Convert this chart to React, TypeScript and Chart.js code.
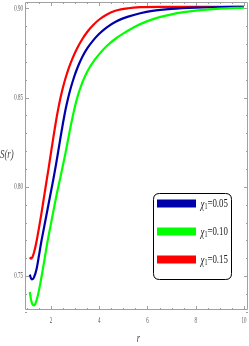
import React, { useEffect, useRef } from "react";
import { Chart, registerables } from "chart.js";

Chart.register(...registerables);

// Data
const blueR = [1.12, 1.16, 1.2, 1.25, 1.3, 1.4, 1.5, 1.6, 1.7, 1.8, 1.9, 2.0, 2.1, 2.2, 2.3, 2.4, 2.5, 2.6, 2.7, 2.8, 2.95, 3.1, 3.3, 3.5, 3.75, 4.0, 4.3, 4.7, 5.2, 5.7, 6.2, 7.0, 8.0, 9.0, 10];
const blueS = [0.7508, 0.749, 0.7482, 0.7483, 0.7495, 0.754, 0.7615, 0.7695, 0.7765, 0.7835, 0.7905, 0.7975, 0.8045, 0.812, 0.82, 0.8282, 0.836, 0.8432, 0.8492, 0.8545, 0.8612, 0.8668, 0.8728, 0.8775, 0.882, 0.8857, 0.8892, 0.8926, 0.8953, 0.8972, 0.8985, 0.8996, 0.9003, 0.9006, 0.9008];

const greenR = [1.12, 1.16, 1.2, 1.25, 1.3, 1.35, 1.45, 1.55, 1.7, 1.85, 2.0, 2.2, 2.4, 2.6, 2.8, 2.95, 3.1, 3.3, 3.5, 3.75, 4.0, 4.3, 4.7, 5.1, 5.5, 6.0, 6.5, 7.0, 7.5, 8.0, 9.0, 10];
const greenS = [0.7412, 0.7375, 0.7352, 0.7338, 0.7336, 0.7345, 0.739, 0.7455, 0.757, 0.769, 0.7795, 0.7935, 0.806, 0.819, 0.833, 0.8425, 0.8505, 0.8585, 0.8645, 0.87, 0.8743, 0.8787, 0.8832, 0.8867, 0.8898, 0.8928, 0.895, 0.8966, 0.8978, 0.8987, 0.8998, 0.9004];

const redR = [1.12, 1.17, 1.22, 1.3, 1.4, 1.5, 1.6, 1.7, 1.8, 1.9, 2.0, 2.1, 2.2, 2.3, 2.4, 2.5, 2.6, 2.75, 2.9, 3.1, 3.3, 3.5, 3.75, 4.0, 4.3, 4.7, 5.2, 5.7, 6.5, 8.0, 10];
const redS = [0.7605, 0.7598, 0.7604, 0.7635, 0.7695, 0.777, 0.785, 0.7935, 0.802, 0.8105, 0.8193, 0.828, 0.8363, 0.8438, 0.8503, 0.8559, 0.8608, 0.867, 0.8722, 0.878, 0.8828, 0.8867, 0.8906, 0.8937, 0.8964, 0.8987, 0.9, 0.9006, 0.9008, 0.9008, 0.9008];

const seriesLabels = ["0.05", "0.10", "0.15"];
const seriesColors = ["#0000aa", "#00ff00", "#ff0000"];

const xTickValues = [2, 4, 6, 8, 10];
const xTickLabels = ["2", "4", "6", "8", "10"];
const yTickValues = [0.75, 0.8, 0.85, 0.9];
const yTickLabels = ["0.75", "0.80", "0.85", "0.90"];

const xMin = 0.92;
const xMax = 10.17;
const yMin = 0.731;
const yMax = 0.9035;

function toPoints(xs: number[], ys: number[]) {
  return xs.map((x, i) => ({ x, y: ys[i] }));
}

function drawText(
  ctx: CanvasRenderingContext2D,
  s: string,
  x: number,
  y: number,
  align: CanvasTextAlign,
  font: string,
  sx: number,
  color: string
) {
  ctx.save();
  ctx.translate(x, y);
  ctx.scale(sx, 1);
  ctx.font = font;
  ctx.textAlign = align;
  ctx.textBaseline = "middle";
  ctx.fillStyle = color;
  ctx.fillText(s, 0, 0);
  ctx.restore();
}

const framePlugin = {
  id: "mmaFrame",
  afterDraw(chart: any) {
    const ctx: CanvasRenderingContext2D = chart.ctx;
    const { left, right, top, bottom } = chart.chartArea;
    const xs = chart.scales.x;
    const ys = chart.scales.y;
    ctx.save();
    ctx.strokeStyle = "#a0a0a0";
    ctx.lineWidth = 1;
    ctx.beginPath();
    ctx.moveTo(left + 0.5, top + 0.5);
    ctx.lineTo(right - 0.5, top + 0.5);
    ctx.lineTo(right - 0.5, bottom - 0.5);
    ctx.lineTo(left + 0.5, bottom - 0.5);
    ctx.closePath();
    ctx.stroke();
    ctx.beginPath();
    for (let k = 2; k <= 20; k++) {
      const v = k * 0.5;
      const p = Math.round(xs.getPixelForValue(v)) + 0.5;
      const len = k % 4 === 0 ? 4 : 2;
      ctx.moveTo(p, bottom);
      ctx.lineTo(p, bottom - len);
      ctx.moveTo(p, top);
      ctx.lineTo(p, top + len);
    }
    for (let k = 73; k <= 90; k++) {
      const v = k / 100;
      const p = Math.round(ys.getPixelForValue(v)) + 0.5;
      const len = k % 5 === 0 ? 4 : 2;
      ctx.moveTo(left, p);
      ctx.lineTo(left + len, p);
      ctx.moveTo(right, p);
      ctx.lineTo(right - len, p);
    }
    ctx.stroke();
    ctx.restore();

    const tickFont = '9px "Liberation Serif"';
    xTickValues.forEach((v, i) => {
      drawText(ctx, xTickLabels[i], xs.getPixelForValue(v), bottom + 11, "center", tickFont, 0.55, "#555");
    });
    yTickValues.forEach((v, i) => {
      drawText(ctx, yTickLabels[i], left - 2, ys.getPixelForValue(v), "right", tickFont, 0.55, "#555");
    });

    drawText(ctx, "r", 138.5, 339, "center", 'italic 13px "Liberation Serif"', 0.65, "#444");
    drawText(ctx, "S(r)", 0, 155, "left", 'italic 13px "Liberation Serif"', 0.68, "#444");

    const bx = 153.5, by = 193.5, bw = 78, bh = 86, rad = 6;
    ctx.save();
    ctx.beginPath();
    ctx.moveTo(bx + rad, by);
    ctx.lineTo(bx + bw - rad, by);
    ctx.quadraticCurveTo(bx + bw, by, bx + bw, by + rad);
    ctx.lineTo(bx + bw, by + bh - rad);
    ctx.quadraticCurveTo(bx + bw, by + bh, bx + bw - rad, by + bh);
    ctx.lineTo(bx + rad, by + bh);
    ctx.quadraticCurveTo(bx, by + bh, bx, by + bh - rad);
    ctx.lineTo(bx, by + rad);
    ctx.quadraticCurveTo(bx, by, bx + rad, by);
    ctx.closePath();
    ctx.fillStyle = "#fff";
    ctx.fill();
    ctx.strokeStyle = "#000";
    ctx.lineWidth = 1;
    ctx.stroke();
    ctx.restore();

    const rowY = [203.5, 231.5, 259.5];
    seriesLabels.forEach((lab, i) => {
      const cy = rowY[i];
      ctx.save();
      ctx.fillStyle = seriesColors[i];
      ctx.fillRect(157, cy - 4, 39, 8);
      ctx.restore();
      const sx = 0.68;
      let x = 200.5;
      ctx.save();
      ctx.font = 'italic 13px "Liberation Serif"';
      const wChi = ctx.measureText("χ").width * sx;
      ctx.font = '9px "Liberation Serif"';
      const wSub = ctx.measureText("1").width * sx;
      ctx.restore();
      drawText(ctx, "χ", x, cy + 1, "left", 'italic 13px "Liberation Serif"', sx, "#222");
      x += wChi;
      drawText(ctx, "1", x, cy + 3, "left", '9px "Liberation Serif"', sx, "#222");
      x += wSub;
      drawText(ctx, "=" + lab, x, cy, "left", '13px "Liberation Serif"', sx, "#222");
    });
  },
};

export default function App() {
  const ref = useRef<HTMLCanvasElement | null>(null);
  useEffect(() => {
    if (!ref.current) return;
    const mk = (label: string, xs: number[], ys: number[], color: string) => ({
      label,
      data: toPoints(xs, ys),
      borderColor: color,
      backgroundColor: color,
      borderWidth: 2.2,
      pointRadius: 0,
      fill: false,
      cubicInterpolationMode: "monotone" as const,
    });
    const chart = new Chart(ref.current, {
      type: "line",
      data: {
        datasets: [
          mk("χ1=0.10", greenR, greenS, seriesColors[1]),
          mk("χ1=0.05", blueR, blueS, seriesColors[0]),
          mk("χ1=0.15", redR, redS, seriesColors[2]),
        ],
      },
      options: {
        responsive: false,
        animation: false,
        devicePixelRatio: 1,
        layout: { padding: { left: 25, top: 2, right: 1, bottom: 36 } },
        scales: {
          x: { type: "linear", min: xMin, max: xMax, display: false },
          y: { type: "linear", min: yMin, max: yMax, display: false },
        },
        plugins: { legend: { display: false }, tooltip: { enabled: false } },
      },
      plugins: [framePlugin],
    });
    return () => chart.destroy();
  }, []);
  return (
    <div style={{ position: "fixed", left: 0, top: 0, width: 249, height: 346, background: "#fff" }}>
      <canvas ref={ref} width={249} height={346} style={{ display: "block" }} />
    </div>
  );
}
